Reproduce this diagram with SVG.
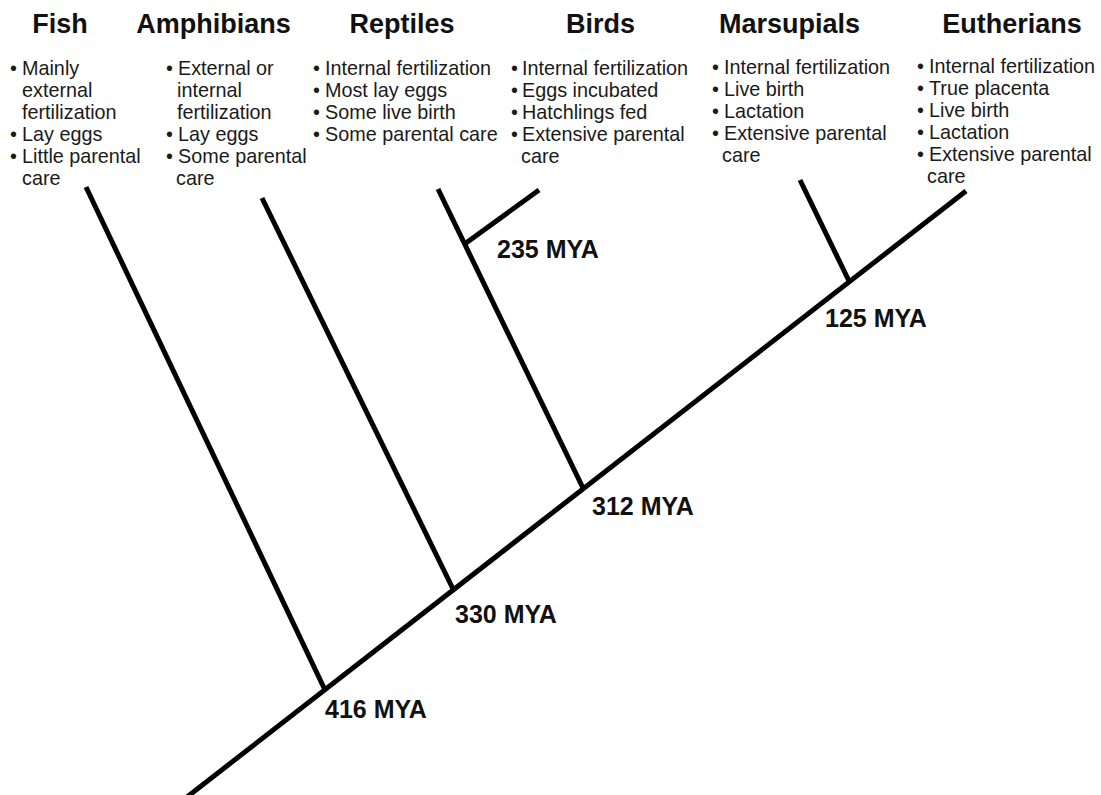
<svg xmlns="http://www.w3.org/2000/svg" width="1101" height="795" viewBox="0 0 1101 795">
<style>
.hdr{font-family:"Liberation Sans",Arial,sans-serif;font-weight:bold;font-size:27px;fill:#111;text-anchor:middle}
.txt{font-family:"Liberation Sans",Arial,sans-serif;font-size:19.8px;fill:#1a1a1a}
.mya{font-family:"Liberation Sans",Arial,sans-serif;font-weight:bold;font-size:25px;fill:#111}
.ln{stroke:#000;stroke-width:5;fill:none;stroke-linecap:butt}
</style>
<rect width="1101" height="795" fill="#fff"/>
<g id="connectors">
<line class="ln" x1="187" y1="797" x2="966" y2="191"/>
<line class="ln" x1="86" y1="187" x2="325" y2="690"/>
<line class="ln" x1="262" y1="198" x2="453" y2="589"/>
<line class="ln" x1="438" y1="189" x2="583" y2="488"/>
<line class="ln" x1="539" y1="190" x2="466" y2="243"/>
<line class="ln" x1="800" y1="180" x2="849" y2="281"/>
</g>
<g id="fish">
<text class="hdr" x="60" y="33">Fish</text>
<text class="txt"><tspan x="10" y="74.5">•</tspan><tspan x="22" y="74.5">Mainly</tspan><tspan x="22" y="96.5">external</tspan><tspan x="22" y="118.5">fertilization</tspan><tspan x="10" y="140.5">•</tspan><tspan x="22" y="140.5">Lay eggs</tspan><tspan x="10" y="162.5">•</tspan><tspan x="22" y="162.5">Little parental</tspan><tspan x="22" y="184.5">care</tspan></text>
</g>
<g id="amphibians">
<text class="hdr" x="213.5" y="33">Amphibians</text>
<text class="txt"><tspan x="166" y="74.5">•</tspan><tspan x="178" y="74.5">External or</tspan><tspan x="177" y="96.5">internal</tspan><tspan x="177" y="118.5">fertilization</tspan><tspan x="166" y="140.5">•</tspan><tspan x="178" y="140.5">Lay eggs</tspan><tspan x="166" y="162.5">•</tspan><tspan x="178" y="162.5">Some parental</tspan><tspan x="176" y="184.5">care</tspan></text>
</g>
<g id="reptiles">
<text class="hdr" x="402" y="33">Reptiles</text>
<text class="txt"><tspan x="313" y="74.5">•</tspan><tspan x="325" y="74.5">Internal fertilization</tspan><tspan x="313" y="96.5">•</tspan><tspan x="325" y="96.5">Most lay eggs</tspan><tspan x="313" y="118.5">•</tspan><tspan x="325" y="118.5">Some live birth</tspan><tspan x="313" y="140.5">•</tspan><tspan x="325" y="140.5">Some parental care</tspan></text>
</g>
<g id="birds">
<text class="hdr" x="600.5" y="33">Birds</text>
<text class="txt"><tspan x="511" y="74.5">•</tspan><tspan x="522" y="74.5">Internal fertilization</tspan><tspan x="511" y="96.5">•</tspan><tspan x="522" y="96.5">Eggs incubated</tspan><tspan x="511" y="118.5">•</tspan><tspan x="522" y="118.5">Hatchlings fed</tspan><tspan x="511" y="140.5">•</tspan><tspan x="522" y="140.5">Extensive parental</tspan><tspan x="521" y="162.5">care</tspan></text>
</g>
<g id="marsupials">
<text class="hdr" x="789.5" y="33">Marsupials</text>
<text class="txt"><tspan x="712" y="74">•</tspan><tspan x="724" y="74">Internal fertilization</tspan><tspan x="712" y="96">•</tspan><tspan x="724" y="96">Live birth</tspan><tspan x="712" y="118">•</tspan><tspan x="724" y="118">Lactation</tspan><tspan x="712" y="140">•</tspan><tspan x="724" y="140">Extensive parental</tspan><tspan x="722" y="162">care</tspan></text>
</g>
<g id="eutherians">
<text class="hdr" x="1012" y="33">Eutherians</text>
<text class="txt"><tspan x="917" y="73">•</tspan><tspan x="929" y="73">Internal fertilization</tspan><tspan x="917" y="95">•</tspan><tspan x="929" y="95">True placenta</tspan><tspan x="917" y="117">•</tspan><tspan x="929" y="117">Live birth</tspan><tspan x="917" y="139">•</tspan><tspan x="929" y="139">Lactation</tspan><tspan x="917" y="161">•</tspan><tspan x="929" y="161">Extensive parental</tspan><tspan x="927" y="183">care</tspan></text>
</g>
<g id="node-416"><text class="mya" x="325" y="718">416 MYA</text></g>
<g id="node-330"><text class="mya" x="455" y="623">330 MYA</text></g>
<g id="node-312"><text class="mya" x="592" y="515">312 MYA</text></g>
<g id="node-235"><text class="mya" x="497" y="258">235 MYA</text></g>
<g id="node-125"><text class="mya" x="825" y="327">125 MYA</text></g>
</svg>
